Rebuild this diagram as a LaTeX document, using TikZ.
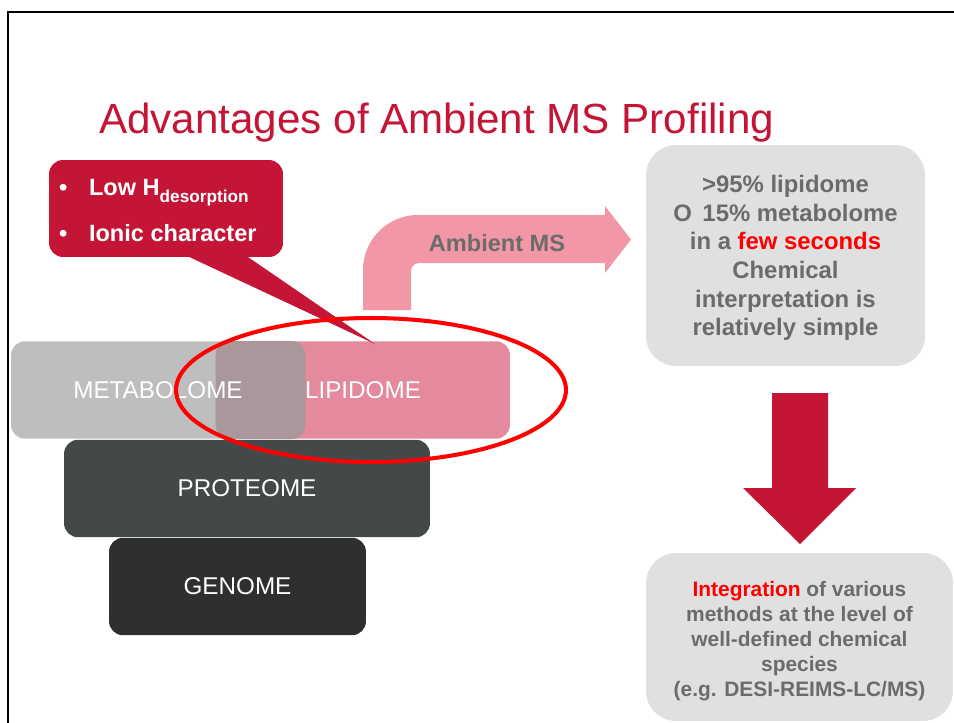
\documentclass[tikz,border=0pt]{standalone}
\usepackage{fontspec}
\setmainfont{Liberation Sans}
\definecolor{slidered}{HTML}{C41537}
\definecolor{hotred}{HTML}{FF0000}
\definecolor{textgray}{HTML}{6B6B6B}
\definecolor{boxgray}{HTML}{DFE0DF}
\definecolor{ambpink}{HTML}{F297A6}
\definecolor{metagray}{HTML}{BEBEBE}
\definecolor{lipipink}{HTML}{E48A9C}
\definecolor{overmauve}{HTML}{A9979B}
\definecolor{protgray}{HTML}{454849}
\definecolor{genogray}{HTML}{2E302F}
\begin{document}
\begin{tikzpicture}[x=0.02cm, y=-0.02cm,
	layer/.style={rounded corners=0.28cm, minimum height=1.95cm, text=white, font=\fontsize{13.8}{16}\selectfont},
	infobox/.style={fill=boxgray, rounded corners=0.6cm},
	infotext/.style={align=center, text=textgray},
	layertext/.style={text=white, font=\fontsize{13.8}{16}\selectfont}]
	\useasboundingbox (0,0) rectangle (954,723);
	\draw[line width=1.2pt] (954,12) -- (8,12) -- (8,723);
	\node[anchor=base west, text=slidered, font=\fontsize{24}{28}\selectfont] (title) at (93,133) {Advantages of Ambient MS Profiling};
	% omics layers
	\node[layer, fill=metagray, minimum width=5.88cm] (metabo) at (158,390) {};
	\node[layer, fill=lipipink, minimum width=5.88cm] (lipido) at (363,390) {};
	\fill[overmauve, rounded corners=0.28cm] (lipido.south west) rectangle (metabo.north east);
	\node[layertext] (metatext) at (metabo) {METABOLOME};
	\node[layertext] (lipitext) at (lipido) {LIPIDOME};
	\node[layer, fill=protgray, minimum width=7.32cm] (proteo) at (247,488.5) {PROTEOME};
	\node[layer, fill=genogray, minimum width=5.14cm] (genome) at (237.5,586.5) {GENOME};
	% callout
	\fill[slidered] (185,255) -- (245,255) -- (375,344) -- cycle;
	\node[fill=slidered, rounded corners=0.28cm, minimum width=4.68cm, minimum height=1.94cm] (callout) at (166,208.5) {};
	\node[anchor=west, align=left, text=white, font=\bfseries\fontsize{13.4}{26.6}\selectfont] (calltext) at (53,210.5)
		{\makebox[17pt][l]{\textbullet}Low H\raisebox{-4pt}{\fontsize{9.8}{10}\selectfont desorption}\\
		 \makebox[17pt][l]{\textbullet}Ionic character};
	\draw[hotred, line width=2.3pt] (371,390) ellipse [x radius=3.9cm, y radius=1.44cm];
	% ambient ms arrow
	\fill[ambpink] (363,310) -- (363,270) .. controls (363,239.6) and (387.6,215) .. (418,215) -- (605,215) -- (605,206) -- (631,239.5)
		-- (605,273) -- (605,263) -- (419,263) .. controls (414.6,263) and (411,266.6) .. (411,271) -- (411,310) -- cycle;
	\node[text=textgray, font=\bfseries\fontsize{13.4}{16}\selectfont] (ambient) at (497,243) {Ambient MS};
	% right column
	\node[infobox, minimum width=5.58cm, minimum height=4.42cm] (lipidinfo) at (785.5,255.5) {};
	\node[infotext, font=\bfseries\fontsize{13.6}{16.3}\selectfont] (lipidtext) at (785.5,258)
		{>95\% lipidome\\ O\, 15\% metabolome\\ in a \textcolor{hotred}{few seconds}\\ Chemical\\ interpretation is\\ relatively simple};
	\fill[slidered] (772,393) -- (828,393) -- (828,488) -- (856,488) -- (800,544) -- (743,488) -- (772,488) -- cycle;
	\node[infobox, minimum width=6.14cm, minimum height=3.36cm] (integr) at (799.5,637) {};
	\node[infotext, font=\bfseries\fontsize{11.9}{14.2}\selectfont] (integrtext) at (799.5,641)
		{\textcolor{hotred}{Integration} of various\\ methods at the level of\\ well-defined chemical\\ species\\ (e.g. DESI-REIMS-LC/MS)};
\end{tikzpicture}
\end{document}
